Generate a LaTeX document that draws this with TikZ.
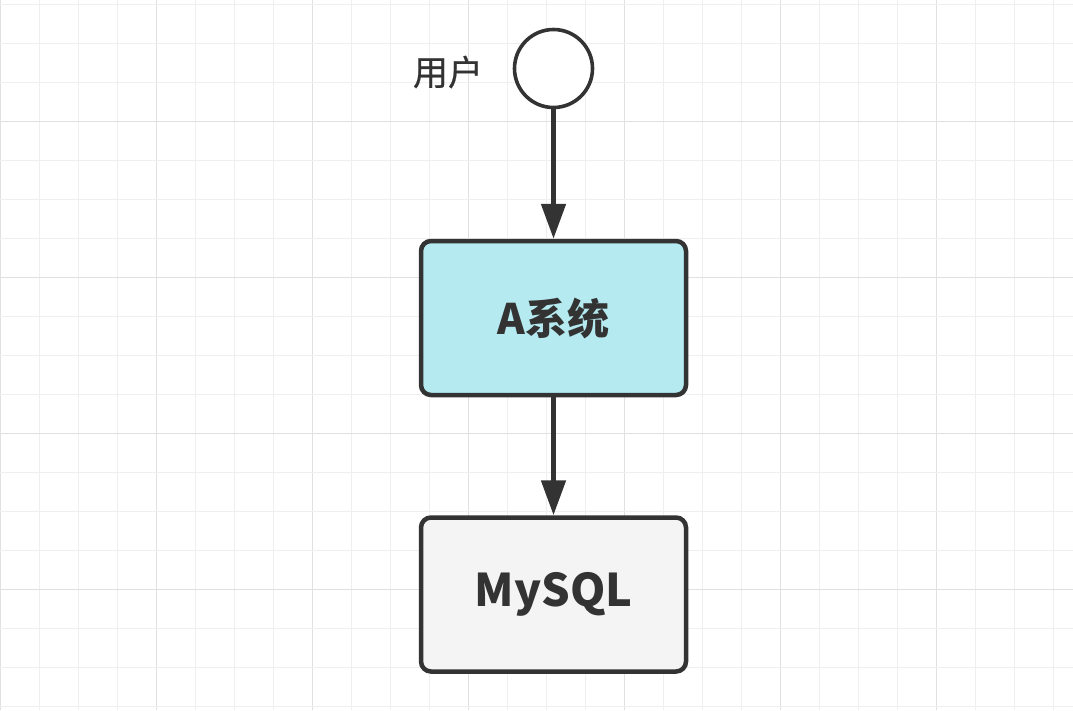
\documentclass[tikz,border=0pt]{standalone}
\usepackage{fontspec}
\newfontfamily\cjk{Noto Sans CJK SC}
\newfontfamily\cjkmed{Noto Sans CJK SC}[FakeBold=0.6]
\usetikzlibrary{arrows.meta}
\definecolor{ink}{HTML}{333333}
\definecolor{minorgrid}{HTML}{EFEFEF}
\definecolor{majorgrid}{HTML}{E0E0E0}
\definecolor{cyanfill}{HTML}{B4EAF0}
\definecolor{grayfill}{HTML}{F4F4F4}
\tikzset{
  minorline/.style={draw=minorgrid, line width=1.2pt},
  majorline/.style={draw=majorgrid, line width=1.4pt},
  actor/.style={circle, draw=ink, fill=white, line width=3.6pt, minimum size=78pt, inner sep=0pt},
  label/.style={font=\cjkmed\fontsize{35}{38}\selectfont, text=ink},
  sysbox/.style={rectangle, rounded corners=10pt, draw=ink, line width=4.5pt, minimum width=265pt, minimum height=154pt, inner sep=0pt, text=ink, font=\cjk\bfseries\fontsize{42}{46}\selectfont},
  flow/.style={draw=ink, line width=5pt, -{Triangle[length=35pt,width=24pt]}}
}
\begin{document}
\begin{tikzpicture}[x=1pt,y=-1pt]
\useasboundingbox (0,0) rectangle (1073,710);
\fill[white] (0,0) rectangle (1073,710);
% grid
\foreach \k in {0,...,27} {
  \pgfmathsetmacro{\xx}{0.3+39*\k}
  \pgfmathtruncatemacro{\m}{mod(\k,4)}
  \ifnum\m=0
    \draw[majorline] (\xx,0) -- (\xx,710);
  \else
    \draw[minorline] (\xx,0) -- (\xx,710);
  \fi
}
\foreach \k in {0,...,18} {
  \pgfmathsetmacro{\yy}{4.3+39*\k}
  \pgfmathtruncatemacro{\m}{mod(\k,4)}
  \ifnum\m=3
    \draw[majorline] (0,\yy) -- (1073,\yy);
  \else
    \draw[minorline] (0,\yy) -- (1073,\yy);
  \fi
}
% nodes
\node[actor] (user) at (553.5,68.5) {};
\node[label] (userlabel) at (448,72) {用户};
\node[sysbox, fill=cyanfill] (asys) at (553.5,318) {A系统};
\node[sysbox, fill=grayfill, font=\cjk\bfseries\fontsize{45}{48}\selectfont] (mysql) at (553.5,594.5) {MySQL};
% connectors
\draw[flow] (user) -- (asys);
\draw[flow] (asys) -- (mysql);
\end{tikzpicture}
\end{document}
